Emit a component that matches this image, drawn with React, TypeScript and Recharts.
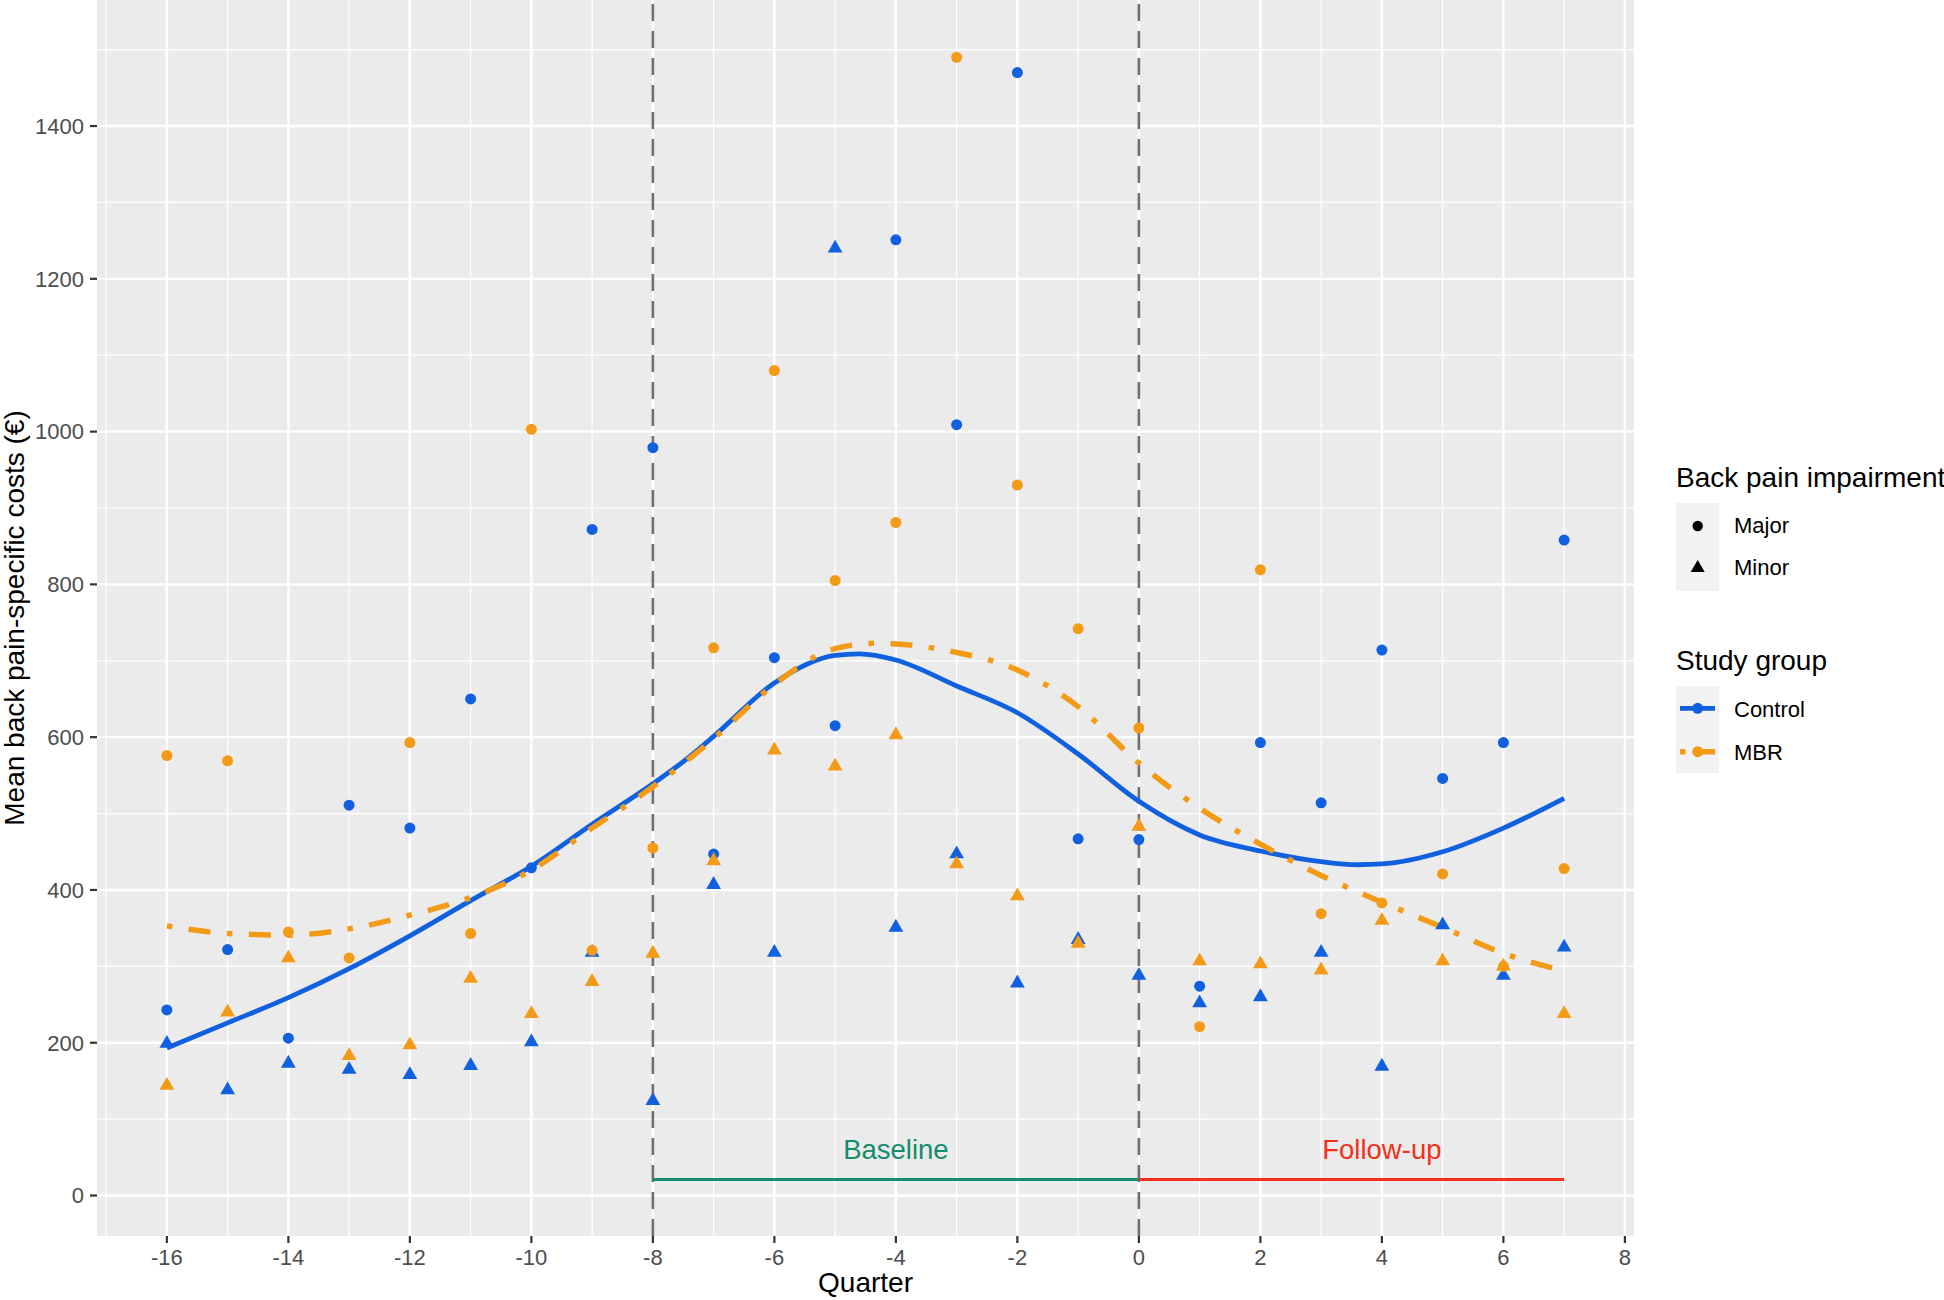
import React from 'react';
import {
  ComposedChart,
  Scatter,
  Line,
  XAxis,
  YAxis,
  CartesianGrid,
  ReferenceLine,
  ReferenceDot,
  Legend,
} from 'recharts';

// quarters relative to the start of the programme
const quarters = [-16, -15, -14, -13, -12, -11, -10, -9, -8, -7, -6, -5, -4, -3, -2, -1, 0, 1, 2, 3, 4, 5, 6, 7];

// observed means per quarter (EUR)
const controlMajor = [243, 322, 206, 511, 481, 650, 429, 872, 979, 447, 704, 615, 1251, 1009, 1470, 467, 466, 274, 593, 514, 714, 546, 593, 858];
const controlMinor = [199, 138, 173, 165, 158, 170, 201, 318, 124, 407, 318, 1240, 351, 447, 278, 335, 288, 252, 260, 318, 169, 354, 288, 325];
const mbrMajor = [576, 569, 345, 311, 593, 343, 1003, 321, 455, 717, 1080, 805, 881, 1490, 930, 742, 612, 221, 819, 369, 383, 421, 300, 428];
const mbrMinor = [144, 240, 311, 183, 197, 284, 238, 280, 317, 438, 583, 562, 603, 434, 392, 330, 483, 307, 303, 295, 360, 307, 300, 238];

// loess smooth curves
const controlSmoothQ = [-16, -15, -14, -13, -12, -11, -10, -9, -8, -7.5, -7, -6, -5, -4.6, -4, -3, -2, -1, 0, 1, 2, 3, 3.6, 4, 5, 6, 7];
const controlSmoothV = [193, 226, 259, 297, 340, 386, 431, 486, 539, 568, 601, 671, 707, 709, 701, 667, 632, 578, 516, 472, 451, 437, 433, 434, 450, 481, 520];
const mbrSmoothQ = [-16, -15, -14, -13, -12, -11, -10, -9, -8, -7, -6, -5, -4.3, -4, -3, -2, -1, 0, 1, 2, 3, 4, 5, 6, 7];
const mbrSmoothV = [353, 343, 341, 349, 367, 390, 426, 481, 535, 598, 669, 716, 723, 722, 711, 688, 640, 566, 507, 460, 419, 384, 351, 317, 294];

const xTicks = [-16, -14, -12, -10, -8, -6, -4, -2, 0, 2, 4, 6, 8];
const xMinor = [-17, -15, -13, -11, -9, -7, -5, -3, -1, 1, 3, 5, 7];
const yTicks = [0, 200, 400, 600, 800, 1000, 1200, 1400];
const yMinor = [100, 300, 500, 700, 900, 1100, 1300, 1500];

const periodLines = [-8, 0];
const periodLabels = ['Baseline', 'Follow-up'];
const periodStart = [-8, 0];
const periodEnd = [0, 7];
const periodLabelX = [-4, 4];
const periodY = 21;
const periodLabelY = 61;

const BLUE = '#1060E0';
const ORANGE = '#F39A16';
const GREEN = '#148C6E';
const RED = '#F42F1B';
const FONT = '"Liberation Sans", Arial, Helvetica, sans-serif';
const MBR_DASH = '5.5 16.5 22 16.5';
const PT = 5.5; // point radius

const toPoints = (vals: number[]) => quarters.map((q, i) => ({ q, v: vals[i] }));
const toCurve = (qs: number[], vs: number[]) => qs.map((q, i) => ({ q, v: vs[i] }));

const triPoints = (x: number, y: number, R: number) =>
  `${x},${y - 1.555 * R} ${x + 1.347 * R},${y + 0.778 * R} ${x - 1.347 * R},${y + 0.778 * R}`;

const Dot = (color: string) => (props: any) => {
  const { cx, cy } = props;
  if (cx == null || cy == null) return <g />;
  return <circle cx={cx} cy={cy} r={PT} fill={color} />;
};

const Tri = (color: string) => (props: any) => {
  const { cx, cy } = props;
  if (cx == null || cy == null) return <g />;
  return <polygon points={triPoints(cx, cy, PT)} fill={color} />;
};

function LegendBlock() {
  return (
    <svg width={284} height={360} style={{ display: 'block', fontFamily: FONT }}>
      <text x={16} y={47} fontSize={28} fill="#000">Back pain impairment</text>
      <rect x={16} y={63} width={43} height={88} fill="#F2F2F2" />
      <circle cx={37.7} cy={86} r={5.2} fill="#000" />
      <polygon points={triPoints(37.7, 128, 5.2)} fill="#000" />
      <text x={74} y={93} fontSize={22} fill="#000">Major</text>
      <text x={74} y={135} fontSize={22} fill="#000">Minor</text>

      <text x={16} y={230} fontSize={28} fill="#000">Study group</text>
      <rect x={16} y={246} width={43} height={87} fill="#F2F2F2" />
      <line x1={20} x2={55} y1={268.3} y2={268.3} stroke={BLUE} strokeWidth={4.8} />
      <circle cx={37.7} cy={268.3} r={5.5} fill={BLUE} />
      <text x={74} y={276.7} fontSize={22} fill="#000">Control</text>
      <line x1={20} x2={55} y1={311.7} y2={311.7} stroke={ORANGE} strokeWidth={5.5} strokeDasharray={MBR_DASH} />
      <circle cx={37.7} cy={311.7} r={5.5} fill={ORANGE} />
      <text x={74} y={320} fontSize={22} fill="#000">MBR</text>
    </svg>
  );
}

export default function App() {
  const tickStyle = { fill: '#4D4D4D', fontSize: 22, fontFamily: FONT };
  return (
    <div style={{ position: 'absolute', left: 0, top: 0, width: 1944, height: 1300, background: '#fff', fontFamily: FONT }}>
      <ComposedChart width={1944} height={1300} margin={{ top: 0, right: 310, bottom: 0, left: 0 }}>
        <CartesianGrid
          fill="#EBEBEB"
          stroke="#FFFFFF"
          strokeWidth={1.2}
          horizontalValues={yMinor}
          verticalValues={xMinor}
        />
        <CartesianGrid
          stroke="#FFFFFF"
          strokeWidth={2.4}
          horizontalValues={yTicks}
          verticalValues={xTicks}
        />
        <XAxis
          type="number"
          dataKey="q"
          domain={[-17.15, 8.15]}
          allowDataOverflow
          ticks={xTicks}
          interval={0}
          height={64}
          axisLine={false}
          tickSize={7}
          tickMargin={6}
          tickLine={{ stroke: '#333333', strokeWidth: 2.2 }}
          tick={tickStyle}
          label={(p: any) => (
            <text x={865.5} y={1292} textAnchor="middle" fontSize={28} fill="#000" fontFamily={FONT}>
              Quarter
            </text>
          )}
        />
        <YAxis
          type="number"
          dataKey="v"
          domain={[-53, 1565]}
          allowDataOverflow
          ticks={yTicks}
          interval={0}
          width={97}
          axisLine={false}
          tickSize={7}
          tickMargin={6}
          tickLine={{ stroke: '#333333', strokeWidth: 2.2 }}
          tick={tickStyle}
          label={(p: any) => (
            <text transform="translate(24,618) rotate(-90)" textAnchor="middle" fontSize={28} fill="#000" fontFamily={FONT}>
              Mean back pain-specific costs (€)
            </text>
          )}
        />

        {periodLines.map((x) => (
          <ReferenceLine key={`v${x}`} x={x} stroke="#707070" strokeWidth={2.6} strokeDasharray="17 10" />
        ))}
        {periodLabels.map((lab, i) => (
          <ReferenceLine
            key={`s${lab}`}
            segment={[
              { x: periodStart[i], y: periodY },
              { x: periodEnd[i], y: periodY },
            ]}
            stroke={i === 0 ? GREEN : RED}
            strokeWidth={3}
          />
        ))}

        <Scatter name="Control Major" data={toPoints(controlMajor)} dataKey="v" fill={BLUE} shape={Dot(BLUE)} isAnimationActive={false} />
        <Scatter name="Control Minor" data={toPoints(controlMinor)} dataKey="v" fill={BLUE} shape={Tri(BLUE)} isAnimationActive={false} />
        <Scatter name="MBR Major" data={toPoints(mbrMajor)} dataKey="v" fill={ORANGE} shape={Dot(ORANGE)} isAnimationActive={false} />
        <Scatter name="MBR Minor" data={toPoints(mbrMinor)} dataKey="v" fill={ORANGE} shape={Tri(ORANGE)} isAnimationActive={false} />

        <Line
          data={toCurve(controlSmoothQ, controlSmoothV)}
          dataKey="v"
          type="monotone"
          stroke={BLUE}
          strokeWidth={4.8}
          dot={false}
          activeDot={false}
          isAnimationActive={false}
        />
        <Line
          data={toCurve(mbrSmoothQ, mbrSmoothV)}
          dataKey="v"
          type="monotone"
          stroke={ORANGE}
          strokeWidth={5.5}
          strokeDasharray={MBR_DASH}
          dot={false}
          activeDot={false}
          isAnimationActive={false}
        />

        {periodLabels.map((lab, i) => (
          <ReferenceDot
            key={`t${lab}`}
            x={periodLabelX[i]}
            y={periodLabelY}
            r={0}
            shape={(p: any) => (
              <text x={p.cx} y={p.cy} dy="0.36em" textAnchor="middle" fontSize={27.5} fill={i === 0 ? GREEN : RED} fontFamily={FONT}>
                {lab}
              </text>
            )}
          />
        ))}

        {/* centred + middle keeps the legend from reserving plot space */}
        <Legend
          layout="horizontal"
          verticalAlign="middle"
          align="center"
          wrapperStyle={{ left: 1660, top: 440, width: 284, height: 360 }}
          content={() => <LegendBlock />}
        />
      </ComposedChart>
    </div>
  );
}
